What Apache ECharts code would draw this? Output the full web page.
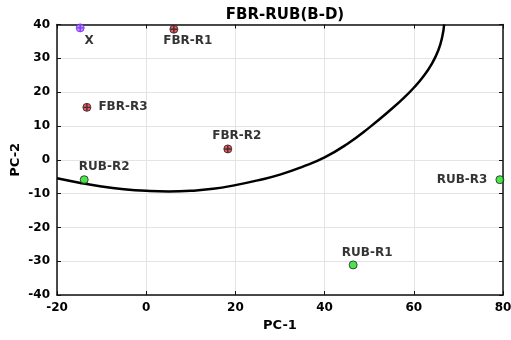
<!DOCTYPE html>
<html>
<head>
<meta charset="utf-8">
<script src="https://cdn.jsdelivr.net/npm/echarts@6/dist/echarts.min.js"></script>
<style>
html,body{margin:0;padding:0;background:#fff;}
#chart{width:511px;height:340px;}
</style>
</head>
<body>
<div id="chart"></div>
<script>
// ---- data ----
const pointNames = ['X', 'FBR-R1', 'FBR-R2', 'FBR-R3', 'RUB-R1', 'RUB-R2', 'RUB-R3'];
const pc1Values = [-14.8, 6.2, 18.3, -13.3, 46.4, -13.9, 79.3];
const pc2Values = [39.0, 38.6, 3.2, 15.5, -31.1, -5.9, -5.9];
const curveX = [-20, -15, -10, -5, 0, 5, 10, 15, 20, 25, 30, 35, 40, 45, 50, 55, 58, 60, 62, 64, 65.5, 66.4, 66.8];
const curveY = [-5.5, -6.8, -7.9, -8.7, -9.2, -9.4, -9.2, -8.6, -7.5, -6.1, -4.4, -2.1, 0.7, 4.6, 9.5, 15.0, 18.6, 21.3, 24.4, 28.3, 32.4, 36.5, 40];
const xTickMin = -20, xTickMax = 80, xTickStep = 20;
const yTickMin = -40, yTickMax = 40, yTickStep = 10;

// ---- styles ----
const groupStyle = {
  'X':   { fill: '#ff55ff', border: '#3344ee', cross: '#3344ee' },
  'FBR': { fill: '#e8303a', border: '#222222', cross: '#222222' },
  'RUB': { fill: '#22dd22', border: '#222222', cross: null }
};
const labelStyle = {
  'X':      { position: 'inside', offset: [9, 13] },
  'FBR-R1': { position: 'inside', offset: [14, 12] },
  'FBR-R2': { position: 'inside', offset: [9, -13] },
  'FBR-R3': { position: 'right', distance: 7 },
  'RUB-R1': { position: 'inside', offset: [14, -12] },
  'RUB-R2': { position: 'inside', offset: [20, -13] },
  'RUB-R3': { position: 'left', distance: 8 }
};
function groupOf(n) { return n === 'X' ? 'X' : n.slice(0, 3); }

const font = 'DejaVu Sans';
const pointData = pointNames.map((n, i) => {
  const g = groupStyle[groupOf(n)];
  const ls = labelStyle[n];
  return {
    name: n,
    value: [pc1Values[i], pc2Values[i]],
    itemStyle: { color: g.fill, borderColor: g.border, borderWidth: 1 },
    label: Object.assign({
      show: true, formatter: n, color: '#000',
      fontFamily: font, fontWeight: 'bold', fontSize: 12
    }, ls)
  };
});
const crossData = pointNames.map((n, i) => ({ n, v: [pc1Values[i], pc2Values[i]] }))
  .filter(d => groupStyle[groupOf(d.n)].cross)
  .map(d => ({ value: d.v, itemStyle: { color: groupStyle[groupOf(d.n)].cross } }));

const axisText = { fontFamily: font, fontWeight: 'bold', fontSize: 12, color: '#000' };
const boxLine = { show: true, onZero: false, lineStyle: { color: '#111', width: 1.5 } };
const tick = { show: true, inside: true, length: 4, lineStyle: { color: '#111' } };

const chart = echarts.init(document.getElementById('chart'), null, { renderer: 'canvas' });
chart.setOption({
  animation: false,
  backgroundColor: '#ffffff',
  title: {
    text: 'FBR-RUB(B-D)',
    left: 280, top: 3, textAlign: 'center',
    textStyle: { fontFamily: font, fontWeight: 'bold', fontSize: 15, color: '#000' }
  },
  grid: { left: 57, right: 8, top: 24.5, bottom: 45, containLabel: false, outerBoundsMode: 'none' },
  xAxis: [{
    type: 'value', min: xTickMin, max: xTickMax, interval: xTickStep,
    name: 'PC-1', nameLocation: 'middle', nameGap: 24, nameMoveOverlap: false,
    nameTextStyle: Object.assign({}, axisText, { fontSize: 13 }),
    axisLine: boxLine, axisTick: tick,
    axisLabel: Object.assign({ margin: 7 }, axisText),
    splitLine: { show: true, lineStyle: { color: '#e4e4e4', width: 1 } }
  }, {
    type: 'value', position: 'top', min: xTickMin, max: xTickMax, interval: xTickStep,
    axisLine: boxLine, axisTick: tick, axisLabel: { show: false }, splitLine: { show: false }
  }],
  yAxis: [{
    type: 'value', min: yTickMin, max: yTickMax, interval: yTickStep,
    name: 'PC-2', nameLocation: 'middle', nameGap: 35, nameMoveOverlap: false,
    nameTextStyle: Object.assign({}, axisText, { fontSize: 13 }),
    axisLine: boxLine, axisTick: tick,
    axisLabel: Object.assign({ margin: 7 }, axisText),
    splitLine: { show: true, lineStyle: { color: '#e4e4e4', width: 1 } }
  }, {
    type: 'value', position: 'right', min: yTickMin, max: yTickMax, interval: yTickStep,
    axisLine: boxLine, axisTick: tick, axisLabel: { show: false }, splitLine: { show: false }
  }],
  series: [
    {
      type: 'line',
      data: curveX.map((x, i) => [x, curveY[i]]),
      smooth: 0.5,
      showSymbol: false,
      lineStyle: { color: '#000', width: 2.5 },
      z: 2
    },
    {
      type: 'scatter',
      data: pointData,
      symbol: 'circle',
      symbolSize: 8,
      z: 3
    },
    {
      type: 'scatter',
      data: crossData,
      symbol: 'path://M4,0L6,0L6,4L10,4L10,6L6,6L6,10L4,10L4,6L0,6L0,4L4,4Z',
      symbolSize: 7,
      silent: true,
      z: 4
    }
  ]
});
</script>
</body>
</html>
